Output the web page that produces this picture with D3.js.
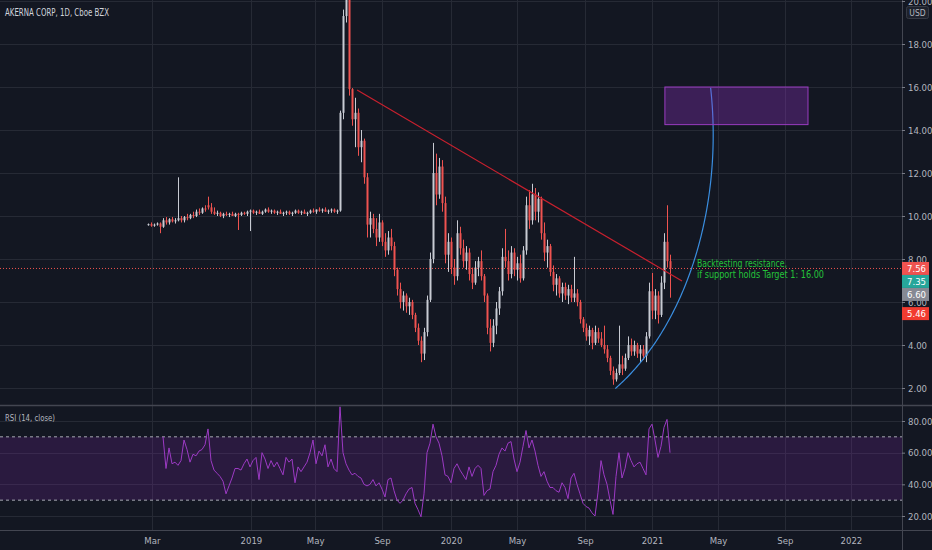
<!DOCTYPE html>
<html>
<head>
<meta charset="utf-8">
<script src="https://cdn.jsdelivr.net/npm/d3@7"></script>
<style>
html, body { margin: 0; padding: 0; background: #131722; }
svg { display: block; }
text { font-family: "Liberation Sans Narrow", "DejaVu Sans Condensed", sans-serif; }
</style>
</head>
<body>
<svg id="chart" width="932" height="550"></svg>
<script>
const title = 'AKERNA CORP, 1D, Cboe BZX';
const rsiTitle = 'RSI (14, close)';

// daily candles (one candle per ~3px column)
const opens = [
  9.60,9.62,9.55,9.60,9.65,9.50,9.80,9.70,9.85,9.75,
  9.80,9.90,9.80,9.95,9.90,10.05,10.00,10.20,10.15,10.35,
  10.50,10.40,10.20,10.10,10.15,10.00,10.10,10.05,10.10,10.00,
  10.10,10.05,10.15,10.10,10.20,10.25,10.15,10.20,10.10,10.20,
  10.30,10.20,10.25,10.15,10.20,10.10,10.15,10.20,10.10,10.15,
  10.25,10.15,10.20,10.10,10.15,10.25,10.20,10.30,10.25,10.30,
  10.20,10.25,10.30,10.20,10.25,14.80,19.30,22.00,15.90,14.50,
  14.80,13.20,13.50,11.80,9.60,9.90,9.40,9.00,9.70,8.80,
  8.40,9.00,8.60,7.50,6.60,6.00,6.30,5.80,6.00,5.40,
  4.80,4.20,3.60,4.60,6.10,8.00,12.00,11.00,12.30,10.60,
  8.20,8.80,7.60,7.20,9.20,8.50,7.90,8.30,7.30,6.90,
  7.60,7.90,7.20,6.30,4.80,4.10,4.90,5.70,6.50,8.10,
  7.90,7.30,8.30,7.50,7.80,7.10,8.40,10.50,9.80,11.00,
  10.20,10.80,9.20,8.30,8.60,7.40,6.80,7.10,6.40,6.70,
  6.30,6.60,6.20,6.40,6.00,5.20,4.80,4.40,4.70,4.10,
  4.60,4.30,4.00,3.80,3.40,2.80,2.40,2.70,3.10,2.90,
  3.40,4.00,3.70,4.00,3.60,3.80,3.50,4.40,6.50,5.60,
  6.30,5.40,6.90,8.80,7.90
];
const highs = [
  9.65,9.70,9.65,9.70,9.70,9.90,9.95,9.90,9.95,9.90,
  11.80,10.00,10.00,10.10,10.10,10.20,10.30,10.35,10.40,10.50,
  10.90,10.60,10.40,10.25,10.20,10.15,10.20,10.15,10.20,10.15,
  10.15,10.20,10.20,10.25,10.30,10.30,10.25,10.30,10.25,10.35,
  10.40,10.30,10.30,10.25,10.30,10.20,10.25,10.25,10.20,10.30,
  10.30,10.25,10.30,10.20,10.30,10.35,10.30,10.40,10.35,10.40,
  10.30,10.35,10.35,10.30,14.90,19.60,23.00,22.50,15.95,15.50,
  15.00,14.00,13.60,12.00,10.20,10.10,9.90,10.10,9.80,9.20,
  9.30,9.40,8.80,7.60,6.90,6.50,6.40,6.20,6.10,5.50,
  5.00,4.40,4.80,6.30,8.30,13.40,12.90,12.70,12.60,10.90,
  9.20,9.00,8.00,9.80,9.50,8.90,8.60,8.50,7.60,7.90,
  8.10,8.40,7.30,6.40,5.20,5.20,6.00,6.70,8.50,9.40,
  8.40,8.60,8.50,8.10,8.20,8.60,10.90,11.20,11.50,11.30,
  11.10,10.90,9.70,8.90,8.70,7.70,7.30,7.20,6.90,6.90,
  6.80,6.80,8.10,6.60,6.10,5.30,5.00,4.90,4.80,4.90,
  4.80,4.60,4.90,4.00,3.50,3.00,2.90,4.90,3.50,3.60,
  4.40,4.30,4.20,4.10,4.00,4.00,4.60,6.90,7.35,6.60,
  6.50,7.20,9.20,10.50,8.20
];
const lows = [
  9.55,9.50,9.50,9.55,9.20,9.45,9.60,9.60,9.70,9.65,
  9.75,9.70,9.70,9.80,9.85,9.90,9.95,10.05,10.10,10.20,
  10.30,10.10,10.05,10.00,9.95,9.90,10.00,9.95,10.00,9.95,
  9.35,10.00,10.05,10.00,9.30,10.10,10.05,10.10,10.05,10.15,
  10.15,10.10,10.10,10.05,10.10,10.00,10.05,10.05,10.00,10.10,
  10.10,10.05,10.10,10.00,10.10,10.15,10.10,10.20,10.15,10.20,
  10.10,10.15,10.15,10.10,10.20,14.50,19.00,15.60,14.20,13.20,
  12.80,12.50,11.50,9.00,9.00,9.20,8.60,8.80,8.60,8.10,
  8.20,8.40,7.20,6.30,5.70,5.60,5.50,5.40,5.20,4.60,
  4.00,3.20,3.30,4.40,6.00,7.80,10.50,10.80,10.20,7.80,
  7.40,7.30,6.80,7.00,8.20,7.60,7.50,7.00,6.60,6.80,
  7.20,7.00,6.00,4.50,3.70,3.90,4.50,5.40,6.30,7.60,
  7.00,7.10,7.20,7.00,6.90,7.00,8.20,9.40,9.60,9.80,
  9.70,8.90,7.90,7.60,7.20,6.50,6.30,6.20,6.00,6.10,
  5.90,6.00,6.00,5.80,5.00,4.60,4.20,4.00,3.80,4.00,
  4.10,3.90,3.60,3.20,2.60,2.15,2.30,2.60,2.60,2.80,
  3.30,3.50,3.50,3.40,3.20,3.30,3.20,4.30,5.20,5.20,
  5.00,5.30,6.60,7.60,6.20
];
const closes = [
  9.62,9.55,9.60,9.65,9.50,9.80,9.70,9.85,9.75,9.80,
  9.90,9.80,9.95,9.90,10.05,10.00,10.20,10.15,10.35,10.30,
  10.40,10.20,10.10,10.15,10.00,10.10,10.05,10.10,10.00,10.10,
  10.05,10.15,10.10,10.20,10.25,10.15,10.20,10.10,10.20,10.30,
  10.20,10.25,10.15,10.20,10.10,10.15,10.20,10.10,10.15,10.25,
  10.15,10.20,10.10,10.15,10.25,10.20,10.30,10.25,10.30,10.20,
  10.25,10.30,10.20,10.25,14.80,19.30,22.00,15.90,14.50,14.80,
  13.20,13.50,11.80,9.60,9.90,9.40,9.00,9.70,8.80,8.40,
  9.00,8.60,7.50,6.60,6.00,6.30,5.80,6.00,5.40,4.80,
  4.20,3.60,4.60,6.10,8.00,12.00,11.00,12.30,10.60,8.20,
  8.80,7.60,7.20,9.20,8.50,7.90,8.30,7.30,6.90,7.60,
  7.90,7.20,6.30,4.80,4.10,4.90,5.70,6.50,8.10,7.90,
  7.30,8.30,7.50,7.80,7.10,8.40,10.50,9.80,11.00,10.20,
  10.80,9.20,8.30,8.60,7.40,6.80,7.10,6.40,6.70,6.30,
  6.60,6.20,6.40,6.00,5.20,4.80,4.40,4.70,4.10,4.60,
  4.30,4.00,3.80,3.40,2.80,2.40,2.70,3.10,2.90,3.40,
  4.00,3.70,4.00,3.60,3.80,3.50,4.40,6.50,5.60,6.30,
  5.40,6.90,8.80,7.90,7.56
];
// RSI values as drawn in the lower pane
const rsi = [
  null,null,null,null,null,
  70,50,63,53,54,52,55,68,62,54,
  59,58,61,62,65,75,55,49,47,45,
  42,34,39,44,50,50,49,53,56,51,
  55,57,43,60,56,50,55,51,54,50,
  46,57,54,56,41,51,48,51,54,60,
  68,53,61,58,65,51,56,50,48,89,
  60,53,49,46,47,45,44,40,39,40,
  43,39,41,37,32,43,44,36,30,28,
  30,34,37,38,28,24,19.5,34,60,66,
  78,70,66,58,46,45,41,50,53,49,
  46,43,51,45,50,52,50,33,36,37,
  48,52,59,63,61,66,67,56,48,54,
  64,74,63,68,61,52,45,48,42,38,
  38,36,35,41,38,31,44,47,40,34,
  28,26,25,22,20,35,55,46,40,30,
  21,45,60,44,50,60,55,51,53,54,
  50,46,75,78,68,57,64,76,81,60
];

// time axis: labels and their bar positions
const tickLabels = ['Mar','2019','May','Sep','2020','May','Sep','2021','May','Sep','2022'];
const tickBars = [1.3, 34.3, 55.7, 78, 101, 123, 145.7, 168, 190, 212.3, 234.3];
const priceTicks = [2, 4, 6, 8, 10, 12, 14, 16, 18, 20];
const rsiTicks = [20, 40, 60, 80];
const rsiBand = [30, 70];

// price tags on the right scale
const tagValues = [7.56, 7.35, 6.60, 5.46];
const tagColors = ['#ef5350', '#26a69a', '#868993', '#f23b30'];

// drawings (bar index, price)
const trendBars = [69.7, 178];
const trendPrices = [15.86, 6.98];
const targetBars = [172.3, 220];
const targetPrices = [14.25, 16.0];
const arcCenter = [121.7, 13.77];
const arcRadius = [66.7, 13.72];
const arcAngles = [59.3, -9];
const noteLines = ['Backtesting resistance,', 'if support holds Target 1: 16.00'];
const notePos = [183, 7.63];

const paneRight = 902;
const priceBottom = 405;
const rsiTop = 406, rsiBottom = 530;

const svg = d3.select('#chart');
const x = d3.scaleLinear().domain([0, closes.length - 1]).range([148, 670]);
const y = d3.scaleLinear().domain([2, 20]).range([388, 1]);
const yr = d3.scaleLinear().domain([20, 80]).range([516, 421]);

svg.append('rect').attr('width', 932).attr('height', 550).attr('fill', '#131722');

const defs = svg.append('defs');
defs.append('clipPath').attr('id', 'clipPrice').append('rect')
  .attr('x', 0).attr('y', 0).attr('width', paneRight).attr('height', priceBottom);
defs.append('clipPath').attr('id', 'clipRsi').append('rect')
  .attr('x', 0).attr('y', rsiTop).attr('width', paneRight).attr('height', rsiBottom - rsiTop);

// grid
const grid = svg.append('g').attr('stroke', '#262a35').attr('stroke-width', 1);
grid.selectAll('.hg').data(priceTicks).enter().append('line')
  .attr('x1', 0).attr('x2', paneRight).attr('y1', d => Math.round(y(d)) + 0.5).attr('y2', d => Math.round(y(d)) + 0.5);
grid.selectAll('.rg').data(rsiTicks).enter().append('line')
  .attr('x1', 0).attr('x2', paneRight).attr('y1', d => Math.round(yr(d)) + 0.5).attr('y2', d => Math.round(yr(d)) + 0.5);
grid.selectAll('.vg').data(tickBars).enter().append('line')
  .attr('x1', d => Math.round(x(d)) + 0.5).attr('x2', d => Math.round(x(d)) + 0.5)
  .attr('y1', 0).attr('y2', rsiBottom);

// rsi band
svg.append('rect').attr('x', 0).attr('width', paneRight)
  .attr('y', yr(rsiBand[1])).attr('height', yr(rsiBand[0]) - yr(rsiBand[1]))
  .attr('fill', 'rgba(126,40,170,0.22)');
svg.selectAll('.band').data(rsiBand).enter().append('line')
  .attr('x1', 0).attr('x2', paneRight).attr('y1', d => yr(d)).attr('y2', d => yr(d))
  .attr('stroke', '#a7aab4').attr('stroke-dasharray', '3,3').attr('stroke-width', 1);

// candles
const candles = closes.map((c, i) => ({ i, o: opens[i], h: highs[i], l: lows[i], c }));
const cg = svg.append('g').attr('clip-path', 'url(#clipPrice)');
const colorOf = d => d.c >= d.o ? '#c8cbd3' : '#ef5350';
cg.selectAll('.wick').data(candles).enter().append('line')
  .attr('x1', d => Math.round(x(d.i)) + 0.5).attr('x2', d => Math.round(x(d.i)) + 0.5)
  .attr('y1', d => y(d.h)).attr('y2', d => y(d.l))
  .attr('stroke', colorOf).attr('stroke-width', 1);
cg.selectAll('.body').data(candles).enter().append('rect')
  .attr('x', d => Math.round(x(d.i)) - 0.5).attr('width', 2)
  .attr('y', d => y(Math.max(d.o, d.c)))
  .attr('height', d => Math.max(1, Math.abs(y(d.o) - y(d.c))))
  .attr('fill', colorOf);

// last price line
const last = closes[closes.length - 1];
cg.append('line').attr('x1', 0).attr('x2', paneRight).attr('y1', y(last)).attr('y2', y(last))
  .attr('stroke', '#ef5350').attr('stroke-dasharray', '1,2').attr('stroke-width', 1);

// trendline
cg.append('line')
  .attr('x1', x(trendBars[0])).attr('y1', y(trendPrices[0]))
  .attr('x2', x(trendBars[1])).attr('y2', y(trendPrices[1]))
  .attr('stroke', '#c8202e').attr('stroke-width', 1.2);

// arc
const angles = d3.range(arcAngles[0], arcAngles[1] - 0.5, -0.5);
const arcLine = d3.line()
  .x(a => x(arcCenter[0] + arcRadius[0] * Math.cos(a * Math.PI / 180)))
  .y(a => y(arcCenter[1] - arcRadius[1] * Math.sin(a * Math.PI / 180)));
cg.append('path').attr('d', arcLine(angles)).attr('fill', 'none')
  .attr('stroke', '#3a8ee0').attr('stroke-width', 1.2);

// target box
cg.append('rect')
  .attr('x', x(targetBars[0])).attr('width', x(targetBars[1]) - x(targetBars[0]))
  .attr('y', y(targetPrices[1])).attr('height', y(targetPrices[0]) - y(targetPrices[1]))
  .attr('fill', 'rgba(150,50,200,0.32)').attr('stroke', '#9a3cc0').attr('stroke-width', 1);

// note
const noteWidths = [90, 127];
cg.selectAll('.note').data(noteLines).enter().append('text')
  .attr('x', x(notePos[0])).attr('y', (d, i) => y(notePos[1]) + i * 11.5)
  .attr('textLength', (d, i) => noteWidths[i]).attr('lengthAdjust', 'spacingAndGlyphs')
  .attr('fill', '#24c33a').attr('font-size', 11).text(d => d);

// rsi line
svg.append('path').attr('clip-path', 'url(#clipRsi)')
  .attr('d', d3.line().defined(d => d != null).x((d, i) => x(i)).y(d => yr(d))(rsi))
  .attr('fill', 'none').attr('stroke', '#9c3ac4').attr('stroke-width', 1);

// pane borders
svg.append('line').attr('x1', 0).attr('x2', 932).attr('y1', priceBottom + 0.5).attr('y2', priceBottom + 0.5)
  .attr('stroke', '#434651').attr('stroke-width', 1.5);
svg.append('line').attr('x1', 0).attr('x2', 932).attr('y1', rsiBottom + 0.5).attr('y2', rsiBottom + 0.5)
  .attr('stroke', '#434651');
svg.append('line').attr('x1', paneRight + 0.5).attr('x2', paneRight + 0.5).attr('y1', 0).attr('y2', 550)
  .attr('stroke', '#434651');

// axes
function styleAxis(g) {
  g.select('.domain').remove();
  g.selectAll('.tick line').attr('stroke', '#787b86');
  g.selectAll('.tick text').attr('fill', '#b2b5be').attr('font-size', 9.5)
    .attr('font-family', '"Liberation Sans Narrow", "DejaVu Sans Condensed", sans-serif');
}
svg.append('g').attr('transform', `translate(${paneRight},0)`)
  .call(d3.axisRight(y).tickValues(priceTicks).tickFormat(d3.format('.2f')).tickSize(3).tickPadding(3))
  .call(styleAxis);
svg.append('g').attr('transform', `translate(${paneRight},0)`)
  .call(d3.axisRight(yr).tickValues(rsiTicks).tickFormat(d3.format('.2f')).tickSize(3).tickPadding(3))
  .call(styleAxis);
svg.append('g').attr('transform', `translate(0,${rsiBottom})`)
  .call(d3.axisBottom(x).tickValues(tickBars).tickFormat((d, i) => tickLabels[i]).tickSize(0).tickPadding(7))
  .call(styleAxis);

// price tags, pushed apart so they do not overlap
const tagY = [];
tagValues.forEach((v, i) => {
  let p = y(v);
  if (i > 0 && p < tagY[i - 1] + 13) p = tagY[i - 1] + 13;
  tagY.push(p);
});
const tags = svg.selectAll('.tag').data(tagValues).enter().append('g')
  .attr('transform', (d, i) => `translate(${paneRight},${tagY[i]})`);
tags.append('rect').attr('x', 0).attr('y', -6.5).attr('width', 27).attr('height', 13)
  .attr('fill', (d, i) => tagColors[i]);
tags.append('text').attr('x', 5).attr('dy', '0.35em').attr('fill', '#ffffff')
  .attr('font-size', 9.5).text(d => d.toFixed(2));

// USD badge
svg.append('rect').attr('x', 906.5).attr('y', 6.5).attr('width', 22).attr('height', 12).attr('rx', 2)
  .attr('fill', '#1e222d').attr('stroke', '#363a45');
svg.append('text').attr('x', 917.5).attr('y', 15.5).attr('text-anchor', 'middle')
  .attr('fill', '#b2b5be').attr('font-size', 8.5).text('USD');

// titles
svg.append('text').attr('x', 5).attr('y', 16).attr('fill', '#d1d4dc').attr('font-size', 10)
  .attr('textLength', 104).attr('lengthAdjust', 'spacingAndGlyphs').text(title);
svg.append('text').attr('x', 5).attr('y', 421).attr('fill', '#b2b5be').attr('font-size', 9.5)
  .attr('textLength', 50).attr('lengthAdjust', 'spacingAndGlyphs').text(rsiTitle);
</script>
</body>
</html>
